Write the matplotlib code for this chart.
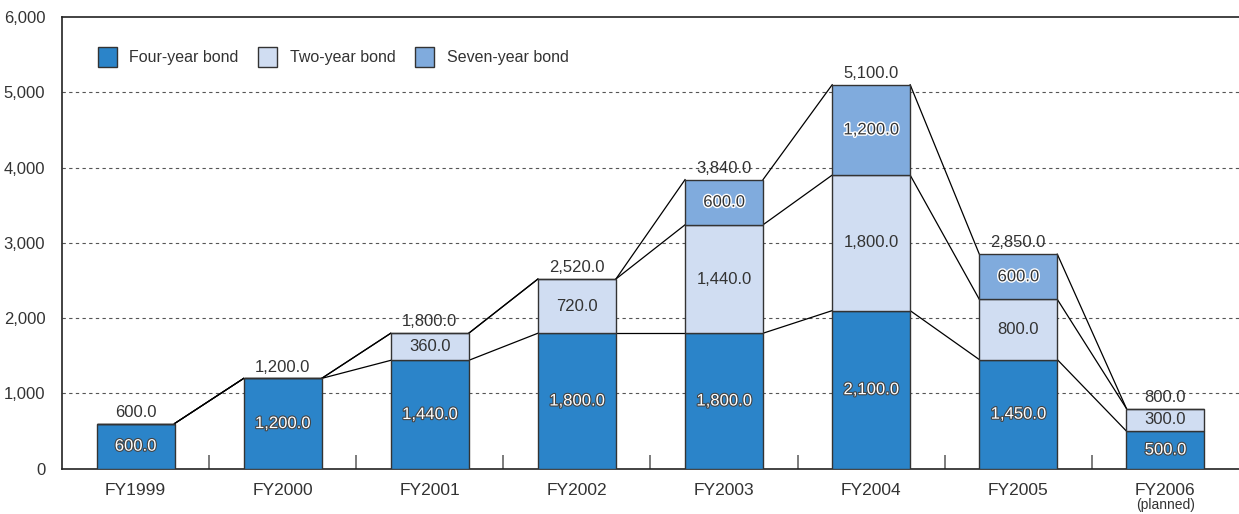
import matplotlib.pyplot as plt
import matplotlib.patheffects as pe
import numpy as np

plt.rcParams['font.family'] = ['Liberation Sans', 'DejaVu Sans']

years = ['FY1999', 'FY2000', 'FY2001', 'FY2002', 'FY2003', 'FY2004', 'FY2005', 'FY2006']
year_notes = ['', '', '', '', '', '', '', '(planned)']
four_year = [600, 1200, 1440, 1800, 1800, 2100, 1450, 500]
two_year = [0, 0, 360, 720, 1440, 1800, 800, 300]
seven_year = [0, 0, 0, 0, 600, 1200, 600, 0]
totals = [600, 1200, 1800, 2520, 3840, 5100, 2850, 800]

c_four, c_two, c_seven = '#2b84c9', '#d0ddf2', '#80abdd'
txt = '#333333'

fig = plt.figure(figsize=(12.39, 5.14), dpi=100)
ax = fig.add_axes([0.050, 0.088, 0.950, 0.879])

x = np.arange(len(years))
w = 0.53
f = np.array(four_year)
t = np.array(two_year)
s = np.array(seven_year)

ax.bar(x, f, w, color=c_four, edgecolor='#333333', linewidth=1, label='Four-year bond', zorder=3)
ax.bar(x, t, w, bottom=f, color=c_two, edgecolor='#333333', linewidth=1, label='Two-year bond', zorder=3)
ax.bar(x, s, w, bottom=f + t, color=c_seven, edgecolor='#333333', linewidth=1, label='Seven-year bond', zorder=3)

# lines joining the stack boundaries of neighbouring bars
levels = [f, f + t, f + t + s]
for lv in levels:
    for i in range(len(x) - 1):
        ax.plot([x[i] + w / 2, x[i + 1] - w / 2], [lv[i], lv[i + 1]],
                color='black', linewidth=0.9, zorder=2)

outline_dark = [pe.withStroke(linewidth=1.6, foreground='#444444')]
halo_white = [pe.withStroke(linewidth=2, foreground='white')]
fs = 12
for i in range(len(x)):
    ax.text(x[i], f[i] / 2, f'{f[i]:,.1f}', ha='center', va='center', fontsize=fs,
            color='white', path_effects=outline_dark, zorder=5)
    if t[i] > 0:
        ax.text(x[i], f[i] + t[i] / 2, f'{t[i]:,.1f}', ha='center', va='center', fontsize=fs,
                color=txt, zorder=5)
    if s[i] > 0:
        ax.text(x[i], f[i] + t[i] + s[i] / 2, f'{s[i]:,.1f}', ha='center', va='center', fontsize=fs,
                color=txt, path_effects=halo_white, zorder=5)
    ax.text(x[i], totals[i] + 50, f'{totals[i]:,.1f}', ha='center', va='bottom', fontsize=fs,
            color=txt, zorder=5)

ax.set_xlim(-0.5, len(x) - 0.5)
ax.set_ylim(0, 6000)
ax.set_yticks(np.arange(0, 6001, 1000))
ax.set_yticklabels([f'{v:,}' for v in range(0, 6001, 1000)], fontsize=12, color=txt)
ax.set_xticks(x)
ax.set_xticklabels(years, fontsize=12.5, color=txt)
ax.tick_params(axis='x', length=0, pad=10)
ax.tick_params(axis='y', length=0, pad=12)
for i, note in enumerate(year_notes):
    if note:
        ax.text(x[i], -0.064, note, transform=ax.get_xaxis_transform(), ha='center', va='top',
                fontsize=10, color=txt)

# small separators between categories
ax.set_xticks(x[:-1] + 0.5, minor=True)
ax.tick_params(axis='x', which='minor', direction='in', length=10, color='#666666', width=1.2)

for v in range(1000, 6000, 1000):
    ax.axhline(v, color='#555555', linestyle=(0, (3, 3)), linewidth=0.8, zorder=1)

ax.spines['right'].set_visible(False)
for sp in ['left', 'top', 'bottom']:
    ax.spines[sp].set_color('#222222')
    ax.spines[sp].set_linewidth(1.2)

ax.legend(loc='upper left', bbox_to_anchor=(0.018, 0.965), ncol=3, frameon=False,
          fontsize=11.5, handlelength=1.2, handleheight=1.5, columnspacing=1.2,
          handletextpad=0.8, labelcolor=txt)

fig.savefig('out.png', dpi=100)
